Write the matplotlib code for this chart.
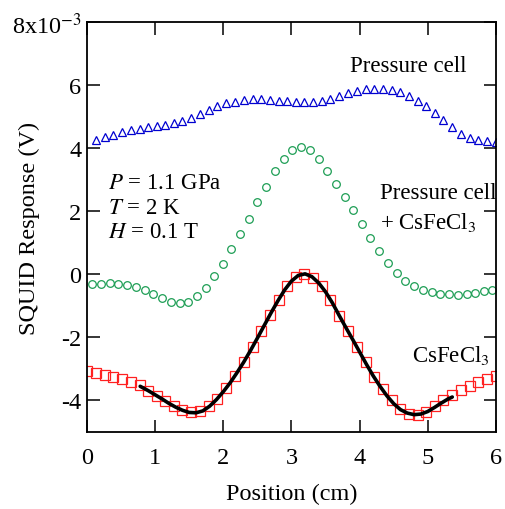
import numpy as np
import matplotlib
matplotlib.use("Agg")
import matplotlib.pyplot as plt

plt.rcParams['font.family'] = ['Liberation Serif', 'DejaVu Serif']
plt.rcParams['mathtext.fontset'] = 'stix'

# positions (cm)
x_sq = [0.00, 0.13, 0.26, 0.38, 0.51, 0.64, 0.77, 0.89, 1.02, 1.15, 1.28, 1.40,
        1.53, 1.66, 1.79, 1.91, 2.04, 2.17, 2.30, 2.43, 2.55, 2.68, 2.81, 2.94,
        3.06, 3.19, 3.32, 3.45, 3.57, 3.70, 3.83, 3.96, 4.09, 4.21, 4.34, 4.47,
        4.60, 4.72, 4.85, 4.98, 5.11, 5.23, 5.36, 5.49, 5.62, 5.74, 5.87, 6.00]
x_tri = x_sq[1:]
x_circ = [0.08, 0.21, 0.34, 0.46, 0.59, 0.72, 0.85, 0.97, 1.10, 1.23, 1.36, 1.48,
          1.61, 1.74, 1.87, 1.99, 2.12, 2.25, 2.38, 2.50, 2.63, 2.76, 2.89, 3.01,
          3.14, 3.27, 3.40, 3.52, 3.65, 3.78, 3.91, 4.04, 4.16, 4.29, 4.42, 4.55,
          4.67, 4.80, 4.93, 5.06, 5.18, 5.31, 5.44, 5.57, 5.69, 5.82, 5.95]

# SQUID response (units of 1e-3 V)
cell = [4.28, 4.36, 4.43, 4.51, 4.59, 4.63, 4.67, 4.70, 4.75, 4.81, 4.88, 4.97,
        5.10, 5.23, 5.34, 5.43, 5.49, 5.54, 5.56, 5.56, 5.55, 5.52, 5.51, 5.49,
        5.48, 5.49, 5.52, 5.57, 5.66, 5.75, 5.82, 5.89, 5.90, 5.90, 5.87, 5.80,
        5.67, 5.52, 5.34, 5.13, 4.89, 4.67, 4.46, 4.34, 4.28, 4.24, 4.20]
cell_sample = [-0.31, -0.29, -0.28, -0.29, -0.33, -0.39, -0.49, -0.61, -0.75, -0.86,
               -0.91, -0.86, -0.69, -0.42, -0.05, 0.34, 0.80, 1.28, 1.77, 2.29,
               2.79, 3.27, 3.67, 3.94, 4.06, 3.94, 3.67, 3.28, 2.87, 2.47, 2.04,
               1.60, 1.17, 0.75, 0.38, 0.04, -0.20, -0.36, -0.50, -0.57, -0.61,
               -0.63, -0.64, -0.63, -0.59, -0.53, -0.48]
sample = [-3.07, -3.12, -3.18, -3.24, -3.31, -3.42, -3.52, -3.69, -3.85, -4.01,
          -4.18, -4.29, -4.35, -4.32, -4.16, -3.94, -3.61, -3.23, -2.79, -2.31,
          -1.80, -1.30, -0.80, -0.36, -0.08, 0.02, -0.10, -0.38, -0.80, -1.31,
          -1.80, -2.29, -2.79, -3.26, -3.65, -4.00, -4.26, -4.42, -4.47, -4.35,
          -4.18, -4.00, -3.82, -3.68, -3.54, -3.42, -3.31, -3.21]

# fit curve
x_fit = [0.78, 0.9, 1.0, 1.1, 1.2, 1.3, 1.4, 1.5, 1.6, 1.7, 1.8, 1.9, 2.0, 2.1,
         2.2, 2.3, 2.4, 2.5, 2.6, 2.7, 2.8, 2.9, 3.0, 3.1, 3.2, 3.3, 3.4, 3.5,
         3.6, 3.7, 3.8, 3.9, 4.0, 4.1, 4.2, 4.3, 4.4, 4.5, 4.6, 4.7, 4.8, 4.9,
         5.0, 5.1, 5.2, 5.3, 5.36]
y_fit = [-3.55, -3.69, -3.82, -3.95, -4.09, -4.21, -4.31, -4.38, -4.39, -4.33,
         -4.18, -3.97, -3.72, -3.44, -3.12, -2.78, -2.41, -2.02, -1.62, -1.22,
         -0.84, -0.49, -0.21, -0.03, 0.02, -0.07, -0.27, -0.55, -0.90, -1.30,
         -1.69, -2.07, -2.46, -2.85, -3.22, -3.55, -3.85, -4.10, -4.29, -4.40,
         -4.45, -4.43, -4.35, -4.22, -4.08, -3.95, -3.89]

yticks = [-4, -2, 0, 2, 4, 6, 8]
ylabels = ['-4', '-2', '0', '2', '4', '6', '8x10$^{-3}$']

fig = plt.figure(figsize=(5.06, 5.10), dpi=100)
ax = fig.add_axes([0.172, 0.151, 0.808, 0.803])

ax.plot(x_tri, cell, '^', mfc='none', mec='#0000d0', ms=6.3, mew=0.9)
ax.plot(x_circ, cell_sample, 'o', mfc='none', mec='#1e9e55', ms=5.5, mew=0.9)
ax.plot(x_sq, sample, 's', mfc='none', mec='#ff2020', ms=6.5, mew=0.9)
ax.plot(x_fit, y_fit, '-', color='black', lw=2.6, solid_capstyle='round')

ax.set_xlim(0, 6)
ax.set_ylim(-5, 8)
ax.set_xticks(range(0, 7))
ax.set_yticks(yticks)
ax.set_yticklabels(ylabels)
ax.tick_params(direction='in', length=9, width=1.1, top=True, right=True,
               labelsize=17.5)
ax.tick_params(axis='x', pad=11)
ax.tick_params(axis='y', pad=4)
for s in ax.spines.values():
    s.set_linewidth(1.3)

ax.set_xlabel('Position (cm)', fontsize=17.5)
ax.set_ylabel('SQUID Response (V)', fontsize=17.5)
ax.xaxis.set_label_coords(0.5, -0.125)
ax.yaxis.set_label_coords(-0.115, 0.5)

fs = 16.5
ax.text(5.57, 6.63, 'Pressure cell', fontsize=fs, ha='right', va='center')
ax.text(4.30, 2.61, 'Pressure cell', fontsize=fs, ha='left', va='center')
ax.text(4.30, 1.69, '+ CsFeCl$_3$', fontsize=fs, ha='left', va='center')
ax.text(5.91, -2.53, 'CsFeCl$_3$', fontsize=fs, ha='right', va='center')
ax.text(0.31, 2.91, '$P$ = 1.1 GPa', fontsize=fs, ha='left', va='center')
ax.text(0.31, 2.12, '$T$ = 2 K', fontsize=fs, ha='left', va='center')
ax.text(0.31, 1.36, '$H$ = 0.1 T', fontsize=fs, ha='left', va='center')

fig.savefig('out.png', dpi=100)
